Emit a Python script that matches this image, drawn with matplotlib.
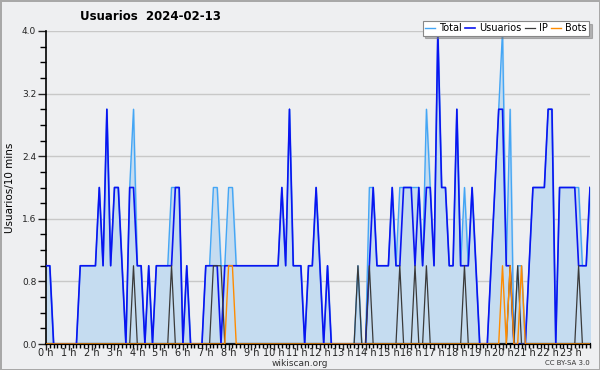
import numpy as np
import matplotlib
matplotlib.use("Agg")
import matplotlib.pyplot as plt
from matplotlib.ticker import MultipleLocator

# one value per 10 minutes, 0:00 .. 23:50
usuarios = [1, 1, 0, 0, 0, 0, 0, 0, 0, 1, 1, 1, 1, 1, 2, 1, 3, 1, 2, 2, 1, 0, 2, 2,
            1, 1, 0, 1, 0, 1, 1, 1, 1, 1, 2, 2, 0, 1, 0, 0, 0, 0, 1, 1, 1, 1, 0, 1,
            1, 1, 1, 1, 1, 1, 1, 1, 1, 1, 1, 1, 1, 1, 2, 1, 3, 1, 1, 1, 0, 1, 1, 2,
            1, 0, 1, 0, 0, 0, 0, 0, 0, 0, 0, 0, 0, 1, 2, 1, 1, 1, 1, 2, 1, 1, 2, 2,
            2, 1, 2, 1, 2, 2, 1, 4, 2, 2, 1, 1, 3, 1, 1, 1, 2, 1, 0, 0, 0, 1, 2, 3,
            3, 1, 1, 0, 0, 0, 0, 1, 2, 2, 2, 2, 3, 3, 0, 2, 2, 2, 2, 2, 1, 1, 1, 2]
ip = [0, 0, 0, 0, 0, 0, 0, 0, 0, 0, 0, 0, 0, 0, 0, 0, 0, 0, 0, 0, 0, 0, 0, 1,
      0, 0, 0, 0, 0, 0, 0, 0, 0, 1, 0, 0, 0, 0, 0, 0, 0, 0, 0, 0, 1, 1, 1, 0,
      0, 0, 0, 0, 0, 0, 0, 0, 0, 0, 0, 0, 0, 0, 0, 0, 0, 0, 0, 0, 0, 0, 0, 0,
      0, 0, 0, 0, 0, 0, 0, 0, 0, 0, 1, 0, 0, 1, 0, 0, 0, 0, 0, 0, 0, 1, 0, 0,
      0, 1, 0, 0, 1, 0, 0, 0, 0, 0, 0, 0, 0, 0, 1, 0, 0, 0, 0, 0, 0, 0, 0, 0,
      0, 0, 1, 0, 1, 0, 0, 0, 0, 0, 0, 0, 0, 0, 0, 0, 0, 0, 0, 0, 1, 0, 0, 0]
bots = [0, 0, 0, 0, 0, 0, 0, 0, 0, 0, 0, 0, 0, 0, 0, 0, 0, 0, 0, 0, 0, 0, 0, 0,
        0, 0, 0, 0, 0, 0, 0, 0, 0, 0, 0, 0, 0, 0, 0, 0, 0, 0, 0, 0, 0, 0, 0, 0,
        1, 1, 0, 0, 0, 0, 0, 0, 0, 0, 0, 0, 0, 0, 0, 0, 0, 0, 0, 0, 0, 0, 0, 0,
        0, 0, 0, 0, 0, 0, 0, 0, 0, 0, 0, 0, 0, 0, 0, 0, 0, 0, 0, 0, 0, 0, 0, 0,
        0, 0, 0, 0, 0, 0, 0, 0, 0, 0, 0, 0, 0, 0, 0, 0, 0, 0, 0, 0, 0, 0, 0, 0,
        1, 0, 1, 0, 0, 1, 0, 0, 0, 0, 0, 0, 0, 0, 0, 0, 0, 0, 0, 0, 0, 0, 0, 0]
total = [1, 1, 0, 0, 0, 0, 0, 0, 0, 1, 1, 1, 1, 1, 2, 1, 3, 1, 2, 2, 1, 0, 2, 3,
         1, 1, 0, 1, 0, 1, 1, 1, 1, 2, 2, 2, 0, 1, 0, 0, 0, 0, 1, 1, 2, 2, 1, 1,
         2, 2, 1, 1, 1, 1, 1, 1, 1, 1, 1, 1, 1, 1, 2, 1, 3, 1, 1, 1, 0, 1, 1, 2,
         1, 0, 1, 0, 0, 0, 0, 0, 0, 0, 1, 0, 0, 2, 2, 1, 1, 1, 1, 2, 1, 2, 2, 2,
         2, 2, 2, 1, 3, 2, 1, 4, 2, 2, 1, 1, 3, 1, 2, 1, 2, 1, 0, 0, 0, 1, 2, 3,
         4, 1, 3, 0, 1, 1, 0, 1, 2, 2, 2, 2, 3, 3, 0, 2, 2, 2, 2, 2, 2, 1, 1, 2]
hour_labels = ["%d h" % h for h in range(24)]

bg = "#eeeff1"
x = np.arange(len(total))

fig = plt.figure(figsize=(6, 3.7), dpi=100, facecolor=bg, edgecolor="#a8a8a8", linewidth=2)
ax = fig.add_axes([46 / 600, 26 / 370, 544 / 600, 313 / 370])
ax.set_facecolor(bg)

ax.fill_between(x, total, color="#c5dcf0", zorder=1)
ax.plot(x, total, color="#44a6f5", lw=1.0, label="Total", zorder=2)
ax.plot(x, usuarios, color="#0a14f0", lw=1.2, label="Usuarios", zorder=3)
ax.plot(x, ip, color="#3a3a3a", lw=0.9, label="IP", zorder=4)
ax.plot(x, bots, color="#ff8c00", lw=1.0, label="Bots", zorder=4)

ax.set_xlim(0, len(total) - 1)
ax.set_ylim(0, 4)
ax.set_xticks(np.arange(0, len(total), 6))
ax.set_xticklabels(hour_labels)
ax.xaxis.set_minor_locator(MultipleLocator(1))
ax.yaxis.set_major_locator(MultipleLocator(0.8))
ax.yaxis.set_minor_locator(MultipleLocator(0.2))
ax.yaxis.set_major_formatter(matplotlib.ticker.FormatStrFormatter("%.1f"))
ax.grid(axis="y", color="#c8c8c8", lw=1)
ax.set_axisbelow(True)

for s in ["top", "right"]:
    ax.spines[s].set_visible(False)
ax.spines["left"].set_linewidth(1.2)
ax.spines["bottom"].set_linewidth(1.6)
ax.tick_params(axis="x", which="major", length=4, width=1, labelsize=7, pad=-1, colors="#222222")
ax.tick_params(axis="x", which="minor", length=3, width=1)
ax.tick_params(axis="y", which="major", length=6, width=1, labelsize=6.5, pad=1, colors="#222222")
ax.tick_params(axis="y", which="minor", length=4, width=1)

fig.text(80 / 600, 1 - 16 / 370, "Usuarios  2024-02-13", fontsize=8.5, fontweight="bold", va="center")
fig.text(10 / 600, 1 - 188 / 370, "Usuarios/10 mins", fontsize=7.5, rotation=90, va="center", ha="center")
fig.text(300 / 600, 1 - 363 / 370, "wikiscan.org", fontsize=6.5, ha="center", va="center", color="#333333")
fig.text(590 / 600, 1 - 363 / 370, "CC BY-SA 3.0", fontsize=5, ha="right", va="center", color="#333333")

leg = ax.legend(loc="upper right", bbox_to_anchor=(594 / 600, 1 - 16 / 370), bbox_transform=fig.transFigure,
                ncol=4, fontsize=7, handlelength=1.0, handletextpad=0.4, columnspacing=0.4,
                borderpad=0.25, fancybox=False, shadow={"color": "#777777"}, framealpha=1, edgecolor="#888888")
leg.get_frame().set_linewidth(0.8)

fig.savefig("out.png", dpi=100, facecolor=bg)
